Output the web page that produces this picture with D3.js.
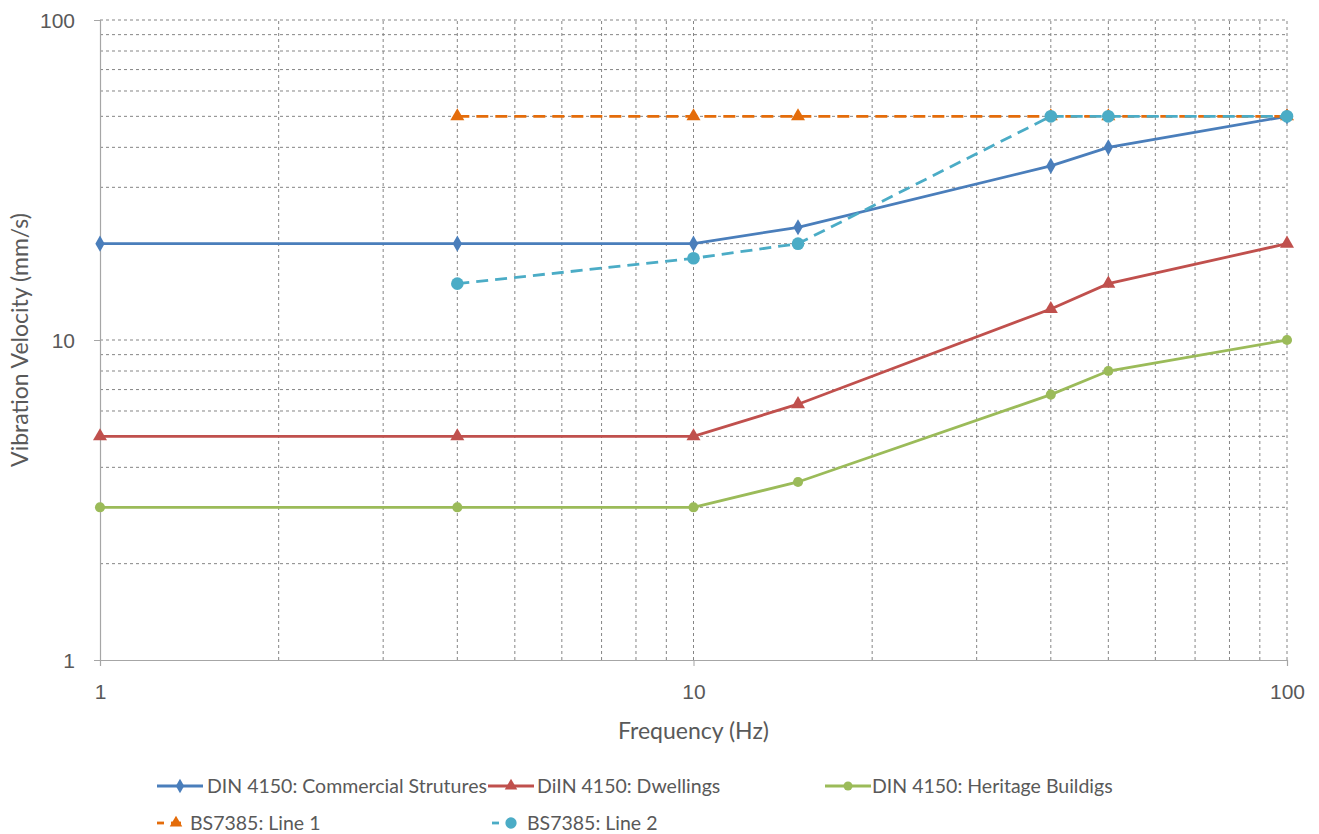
<!DOCTYPE html>
<html>
<head>
<meta charset="utf-8">
<script src="https://cdn.jsdelivr.net/npm/d3@7"></script>
<style>
  html, body { margin: 0; padding: 0; background: #ffffff; }
  svg { display: block; font-family: Lato, "Open Sans", sans-serif; }
</style>
</head>
<body>
<svg id="chart" width="1319" height="834"></svg>
<script>
// Vibration limit curves, velocity (mm/s) against frequency (Hz)
const freqDIN = [1, 4, 10, 15, 40, 50, 100];
const commercial = [20, 20, 20, 22.5, 35, 40, 50];
const dwellings = [5, 5, 5, 6.3, 12.5, 15, 20];
const heritage = [3, 3, 3, 3.6, 6.75, 8, 10];

const freqBS = [4, 10, 15, 40, 50, 100];
const bsLine1 = [50, 50, 50, 50, 50, 50];
const bsLine2 = [15, 18, 20, 50, 50, 50];

const xTicks = [1, 10, 100];
const yTicks = [1, 10, 100];

const seriesNames = [
  "DIN 4150: Commercial Strutures",
  "DiIN 4150: Dwellings",
  "DIN 4150: Heritage Buildigs",
  "BS7385: Line 1",
  "BS7385: Line 2"
];

const series = [
  { name: seriesNames[0], x: freqDIN, y: commercial, color: "#4A7EBB", dash: null, symbol: d3.symbolDiamond, size: 75 },
  { name: seriesNames[1], x: freqDIN, y: dwellings, color: "#C0504D", dash: null, symbol: d3.symbolTriangle, size: 85 },
  { name: seriesNames[2], x: freqDIN, y: heritage, color: "#9BBB59", dash: null, symbol: d3.symbolCircle, size: 80 },
  { name: seriesNames[3], x: freqBS, y: bsLine1, color: "#E46C0A", dash: "12,7", symbol: d3.symbolTriangle, size: 85 },
  { name: seriesNames[4], x: freqBS, y: bsLine2, color: "#4BACC6", dash: "12,7", symbol: d3.symbolCircle, size: 125 }
];

const svg = d3.select("#chart");
const margin = { left: 100, right: 32, top: 20, bottom: 174 };
const W = 1319, H = 834;
const pw = W - margin.left - margin.right;
const ph = H - margin.top - margin.bottom;

const x = d3.scaleLog().domain([1, 100]).range([margin.left, margin.left + pw]);
const y = d3.scaleLog().domain([1, 100]).range([margin.top + ph, margin.top]);

const textColor = "#595959";
const gridColor = "#858585";

// Gridlines at every decade step
const gridVals = [];
for (const dec of [1, 10]) for (let k = 1; k <= 10; k++) gridVals.push(dec * k);
const gridUnique = Array.from(new Set(gridVals)).filter(v => v > 1);

const grid = svg.append("g");
grid.selectAll("line.v").data(gridUnique).join("line")
  .attr("x1", d => x(d)).attr("x2", d => x(d))
  .attr("y1", y(1)).attr("y2", y(100))
  .attr("stroke", gridColor).attr("stroke-width", 1)
  .attr("stroke-dasharray", "3,3");
grid.selectAll("line.h").data(gridUnique).join("line")
  .attr("y1", d => y(d)).attr("y2", d => y(d))
  .attr("x1", x(1)).attr("x2", x(100))
  .attr("stroke", gridColor).attr("stroke-width", 1)
  .attr("stroke-dasharray", "3,3");

// Axes
const xAxis = svg.append("g")
  .attr("transform", `translate(0,${y(1)})`)
  .call(d3.axisBottom(x).tickValues(xTicks).tickFormat(d3.format("d")).tickSize(6).tickPadding(6));
const yAxis = svg.append("g")
  .attr("transform", `translate(${x(1)},0)`)
  .call(d3.axisLeft(y).tickValues(yTicks).tickFormat(d3.format("d")).tickSize(6).tickPadding(6));

[xAxis, yAxis].forEach(a => {
  a.select(".domain").attr("stroke", "#a6a6a6").attr("stroke-width", 1.2);
  a.selectAll(".tick line").attr("stroke", "#a6a6a6");
  a.selectAll(".tick text").attr("fill", textColor).attr("font-size", 21);
});
yAxis.selectAll(".tick text").attr("dy", "0.35em").attr("x", -25);
xAxis.selectAll(".tick text").attr("dy", "1.3em");

// Axis titles
svg.append("text")
  .attr("x", x(10)).attr("y", 739)
  .attr("text-anchor", "middle").attr("fill", textColor).attr("font-size", 23)
  .text("Frequency (Hz)");
svg.append("text")
  .attr("transform", `translate(28,${y(10)}) rotate(-90)`)
  .attr("text-anchor", "middle").attr("fill", textColor).attr("font-size", 23)
  .text("Vibration Velocity (mm/s)");

// Series lines and markers
const line = d3.line().x(d => x(d[0])).y(d => y(d[1]));
series.forEach(s => {
  const pts = s.x.map((v, i) => [v, s.y[i]]);
  const g = svg.append("g");
  g.append("path").datum(pts)
    .attr("d", line).attr("fill", "none")
    .attr("stroke", s.color).attr("stroke-width", 2.8)
    .attr("stroke-dasharray", s.dash);
  g.selectAll("path.m").data(pts).join("path")
    .attr("d", d3.symbol().type(s.symbol).size(s.size))
    .attr("transform", d => `translate(${x(d[0])},${y(d[1])})`)
    .attr("fill", s.color);
});

// Legend
const legendPos = [
  { lx: 157, ly: 786, len: 46, tx: 207 },
  { lx: 488, ly: 786, len: 46, tx: 537 },
  { lx: 825, ly: 786, len: 46, tx: 872 },
  { lx: 157, ly: 823, len: 24, tx: 190 },
  { lx: 492, ly: 823, len: 24, tx: 527 }
];
series.forEach((s, i) => {
  const p = legendPos[i];
  const g = svg.append("g");
  if (s.dash) {
    g.append("line").attr("x1", p.lx).attr("x2", p.lx + 7).attr("y1", p.ly).attr("y2", p.ly)
      .attr("stroke", s.color).attr("stroke-width", 2.8);
    g.append("line").attr("x1", p.lx + 14).attr("x2", p.lx + p.len).attr("y1", p.ly).attr("y2", p.ly)
      .attr("stroke", s.color).attr("stroke-width", 2.8);
    g.append("path").attr("d", d3.symbol().type(s.symbol).size(s.size * 0.8))
      .attr("transform", `translate(${p.lx + 19},${p.ly})`).attr("fill", s.color);
  } else {
    g.append("line").attr("x1", p.lx).attr("x2", p.lx + p.len).attr("y1", p.ly).attr("y2", p.ly)
      .attr("stroke", s.color).attr("stroke-width", 2.8);
    g.append("path").attr("d", d3.symbol().type(s.symbol).size(s.size * 0.8))
      .attr("transform", `translate(${p.lx + p.len / 2},${p.ly})`).attr("fill", s.color);
  }
  g.append("text").attr("x", p.tx).attr("y", p.ly).attr("dy", "0.35em")
    .attr("fill", textColor).attr("font-size", 19.5).text(s.name);
});
</script>
</body>
</html>
